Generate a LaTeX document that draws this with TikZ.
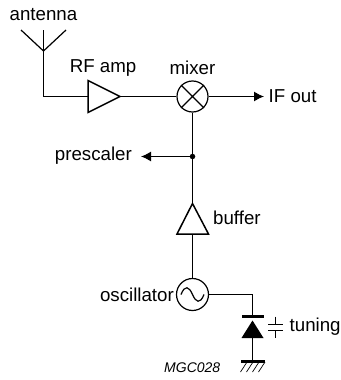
\documentclass[tikz,border=0pt]{standalone}
\usepackage{fontspec}
\setmainfont{Liberation Sans}
\usetikzlibrary{arrows.meta}
\tikzset{
  wire/.style={line width=1.2pt,line join=miter},
  sym/.style={line width=1.5pt,line join=miter},
  thin sym/.style={line width=1.2pt},
  bar/.style={line width=3pt},
  arrowed/.style={wire,-{Latex[length=10pt,width=10pt]}},
  lab/.style={inner sep=0pt,font=\fontsize{18.7pt}{20pt}\selectfont},
  code/.style={inner sep=0pt,font=\fontsize{14pt}{16pt}\selectfont\itshape},
  ring/.style={circle,draw,line width=1.2pt,inner sep=0pt,minimum size=31pt},
  junction/.style={circle,fill=black,inner sep=0pt,minimum size=5.5pt}
}
\begin{document}
\begin{tikzpicture}[x=1pt,y=-1pt]
\useasboundingbox (0,0) rectangle (340,380);
% labels
\node[lab] (lant) at (43.5,15) {antenna};
\node[lab] (lrf) at (103,68) {RF amp};
\node[lab] (lmix) at (192.5,68) {mixer};
\node[lab,anchor=west] (lif) at (268.5,96.5) {IF out};
\node[lab,anchor=east] (lpre) at (132,156) {prescaler};
\node[lab,anchor=west] (lbuf) at (213,218) {buffer};
\node[lab,anchor=east] (losc) at (174,295) {oscillator};
\node[lab,anchor=west] (ltun) at (289.5,327) {tuning};
\node[code,anchor=west] (lcode) at (164,367.5) {MGC028};
% antenna
\coordinate (apex) at (43.5,51);
\coordinate (tipl) at (21,30);
\coordinate (tipr) at (66,30);
\coordinate (tipm) at (43.5,30);
\coordinate (corner) at (43.5,96.5);
\draw[wire] (tipl) -- (apex) -- (tipr);
\draw[wire] (tipm) -- (apex) -- (corner);
% RF amp
\coordinate (rfa) at (88,80.5);
\coordinate (rfb) at (88,112.5);
\coordinate (rfin) at (88,96.5);
\coordinate (rfout) at (120,96.5);
\draw[wire] (corner) -- (rfin);
\draw[sym] (rfa) -- (rfout) -- (rfb) -- cycle;
% mixer
\node[ring] (mix) at (192.5,96.5) {};
\draw[thin sym] (mix.45) -- (mix.225) (mix.135) -- (mix.315);
\draw[wire] (rfout) -- (mix.west);
\coordinate (ifend) at (264,96.5);
\draw[arrowed] (mix.east) -- (ifend);
% junction and prescaler
\node[junction] (dot) at (192.5,156.5) {};
\coordinate (preend) at (141,156.5);
\draw[wire] (mix.south) -- (dot);
\draw[arrowed] (dot) -- (preend);
% buffer
\coordinate (bufa) at (192.5,203.5);
\coordinate (bufl) at (177,234);
\coordinate (bufr) at (208.5,234);
\coordinate (bufin) at (192.5,234);
\draw[wire] (dot) -- (bufa);
\draw[sym] (bufa) -- (bufr) -- (bufl) -- cycle;
% oscillator
\node[ring,minimum size=32pt] (osc) at (192.5,294.5) {};
\draw[wire] (bufin) -- (osc.north);
\draw[thin sym] (181,294.5) .. controls (185,284.5) and (189,286.5) .. (192.5,294.5) .. controls (196,302.5) and (200,304.5) .. (204,294.5);
% varicap
\coordinate (vtop) at (252.5,316.5);
\coordinate (vbend) at (252.5,294.5);
\coordinate (vgnd) at (252.5,361);
\draw[wire] (osc.east) -- (vbend) -- (vtop);
\draw[bar] (242,316.5) -- (264,316.5);
\fill (252.5,320.5) -- (263.5,338) -- (241.5,338) -- cycle;
\draw[wire] (252.5,338) -- (vgnd);
\draw[bar] (241,361) -- (264.5,361);
\foreach \x in {241.5,247.5,253.5,259.5}
  \draw[line width=0.7pt] (\x+5.5,362) -- (\x-1,372);
% capacitor
\draw[thin sym] (275.5,316.5) -- (275.5,324.5) (268,324.5) -- (282.5,324.5);
\draw[thin sym] (268,330.5) -- (282.5,330.5) (275.5,330.5) -- (275.5,338);
\end{tikzpicture}
\end{document}
